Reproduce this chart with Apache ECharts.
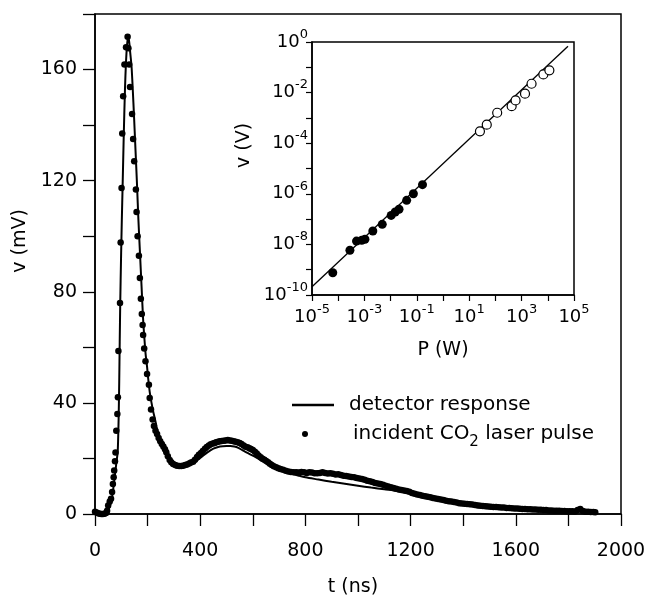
<!DOCTYPE html>
<html>
<head>
<meta charset="utf-8">
<script src="https://cdn.jsdelivr.net/npm/echarts@6/dist/echarts.min.js"></script>
<style>html,body{margin:0;padding:0;background:#fff}#c{width:650px;height:602px}</style>
</head>
<body>
<div id="c"></div>
<script>
// ---- main chart: detector response (solid line) ----
var respT = [0,20,40,50,57,63,68,72,77,82,86,88,90,92,94,96,99,102,105,109,114,118,122,126,130,134,139,144,148,154,160,165,171,177,183,188,193,198,202,208,215,221,227,234,240,250,260,270,280,290,300,315,330,345,360,380,400,425,450,475,500,515,530,545,560,580,600,625,650,675,700,725,750,775,800,850,900,950,1000,1050,1100,1150,1200,1250,1300,1350,1400,1450,1500,1550,1600,1650,1700,1750,1800,1850,1900];
var respV = [0.5,0.4,0.4,1.4,3,5,8,11,15,19,22,27,35,47,62,76,92,106,118,135,153,163,169,172,170,166,161,152,144,131,118,106,94,82,70,63,57,53,49,44,40,37,34.6,31.5,29,26,24,22,20.5,19.3,18.5,17.8,17.5,17.5,17.8,18.6,20.2,22,23.5,24.3,24.5,24.5,24.3,23.8,23,22,21,19.7,18.5,17.3,16.3,15.3,14.5,13.8,13.2,12.4,11.6,10.9,10.2,9.5,8.9,8.3,7.4,6.6,5.6,4.9,4.3,3.8,3.2,2.8,2.4,2.1,1.8,1.5,1.2,0.9,0.6];

// ---- main chart: incident CO2 laser pulse (dots) ----
var pulseT = [0,6,12,18,24,30,36,42,46,50,56,61,65,68,71,73,76,78,81,85,87,89,95,97.5,101,103.6,107,112,118,124,127,130,133,141,145,149,155.5,158,162,167,170.6,174.4,178,181,183,187,192,198,205,208,213,219,224,230,236,242,248,254,260,266,271,277,284,290,297,305,312,320,328,335,343,350,358,365,373,380,388,395,403,410,418,425,433,440,448,455,461,468,475,482,490,497,505,512,520,527,535,542,550,557,565,572,580,587,593,600,608,615,622,630,637,644,651,658,665,672,680,689,697,705,715,725,735,745,755,765,775,785,795,805,815,825,835,845,855,865,875,885,895,905,915,925,935,945,955,965,975,985,995,1005,1015,1025,1035,1045,1055,1065,1075,1085,1095,1105,1115,1125,1135,1145,1155,1165,1175,1185,1195,1205,1215,1225,1235,1245,1255,1265,1275,1285,1295,1305,1315,1325,1335,1345,1355,1365,1375,1385,1395,1405,1415,1425,1435,1445,1455,1465,1475,1485,1495,1505,1515,1525,1535,1545,1555,1565,1575,1585,1595,1605,1615,1625,1635,1645,1655,1665,1675,1685,1695,1705,1715,1725,1735,1745,1755,1765,1775,1785,1795,1805,1815,1825,1835,1845,1855,1865,1875,1885,1895,1902];
var pulseV = [0.8,0.5,0.3,0.1,0,0,0.1,0.4,1.2,3.1,4.5,5.5,7.9,10.8,13.2,15.7,19,22.1,30,36,42,58.7,76,97.7,117.4,137,150.4,161.8,168,171.8,167.7,161.8,153.7,144,135,127,116.8,108.7,100,93,85,77.5,72,68,64.4,59.6,55,50.4,46.5,41.8,37.6,34,31.7,30,28.8,27.4,26.2,25.2,24.3,23.3,22.2,20.8,19.4,18.6,18,17.6,17.4,17.3,17.3,17.4,17.6,17.8,18.2,18.5,18.8,19.5,20.5,21.3,22,22.7,23.5,24.1,24.7,25.1,25.4,25.6,25.8,26,26.2,26.3,26.4,26.5,26.6,26.5,26.4,26.2,26,25.8,25.6,25.2,24.7,24.2,24,23.7,23.4,23,22.4,21.8,21.1,20.4,19.9,19.5,19.1,18.6,18.1,17.6,17.2,16.8,16.5,16.2,15.9,15.6,15.3,15.1,15,15,14.9,15.1,15,14.8,15,14.9,14.7,14.7,14.8,15,14.8,14.6,14.7,14.5,14.2,14.3,14,13.8,13.7,13.5,13.3,13.2,13,12.8,12.6,12.3,12,11.8,11.5,11.2,11,10.8,10.5,10.2,9.9,9.6,9.4,9.1,8.8,8.6,8.5,8.3,8,7.6,7.3,7,6.8,6.6,6.4,6.2,6,5.8,5.6,5.4,5.2,5,4.8,4.6,4.5,4.3,4.1,3.9,3.8,3.7,3.6,3.5,3.4,3.2,3.1,3,2.9,2.8,2.7,2.6,2.5,2.5,2.4,2.3,2.3,2.2,2.2,2.1,2,2,1.9,1.8,1.8,1.7,1.7,1.6,1.6,1.5,1.5,1.4,1.4,1.3,1.3,1.2,1.2,1.2,1.1,1.1,1,1,1,0.9,1.4,1.8,1.1,0.8,0.8,0.7,0.7,0.6,0.5];

// ---- inset: v (V) vs P (W) ----
var filledP = [6.2e-5,2.8e-4,5.0e-4,7.9e-4,1.05e-3,2.1e-3,4.8e-3,1.05e-2,1.5e-2,2.1e-2,4.1e-2,7.4e-2,1.65e-1];
var filledV = [7.6e-10,5.9e-9,1.35e-8,1.45e-8,1.6e-8,3.4e-8,6.2e-8,1.4e-7,1.9e-7,2.45e-7,5.5e-7,1.0e-6,2.3e-6];
var openP = [25.7,46.8,117,417,589,1349,2399,6761,11480];
var openV = [2.95e-4,5.4e-4,1.6e-3,2.9e-3,4.9e-3,9.1e-3,2.24e-2,5.25e-2,7.6e-2];
var fitP = [1e-5,5.9e4];
var fitV = [2.1e-10,0.68];

// tick labels
var mainXLabels = [0,400,800,1200,1600,2000];
var mainYLabels = [0,40,80,120,160];
var insetXExp = [-5,-3,-1,1,3,5];
var insetYExp = [0,-2,-4,-6,-8,-10];

function zip(a,b){return a.map(function(v,i){return [v,b[i]];});}
var FONT = 'DejaVu Sans';

var chart = echarts.init(document.getElementById('c'), null, {renderer:'canvas'});
function expOf(v){return Math.round(Math.log(v)/Math.LN10);}
var supRich = {
  b:{fontSize:18,lineHeight:28,fontFamily:FONT,color:'#000'},
  s:{fontSize:13,lineHeight:8,verticalAlign:'top',fontFamily:FONT,color:'#000'}
};
var option = {
  animation:false,
  backgroundColor:'#fff',
  textStyle:{fontFamily:FONT,color:'#000'},
  grid:[
    {left:95,top:14,width:526,height:503,show:true,borderColor:'#000',borderWidth:1.5,backgroundColor:'transparent'},
    {left:312,top:42,width:262,height:253,show:true,borderColor:'#000',borderWidth:1.5,backgroundColor:'transparent'}
  ],
  xAxis:[
    {type:'value',gridIndex:0,min:0,max:2000,interval:200,
     axisLine:{lineStyle:{color:'#000',width:1.5}},
     axisTick:{length:12,lineStyle:{color:'#000',width:1.3}},
     splitLine:{show:false},
     axisLabel:{margin:28,fontSize:19,fontFamily:FONT,color:'#000',
       formatter:function(v){return mainXLabels.indexOf(v)>=0?String(v):'';}},
     name:'t (ns)',nameLocation:'middle',nameGap:64,
     nameTextStyle:{fontSize:19,fontFamily:FONT,color:'#000',padding:[0,10,0,0]}},
    {type:'log',logBase:10,gridIndex:1,min:1e-5,max:1e5,interval:1,splitNumber:10,
     axisLine:{lineStyle:{color:'#000',width:1.5}},
     axisTick:{length:6,lineStyle:{color:'#000',width:1.2}},
     splitLine:{show:false},minorTick:{show:false},
     axisLabel:{margin:8,rich:supRich,
       formatter:function(v){var e=expOf(v);return insetXExp.indexOf(e)>=0?'{b|10}{s|'+e+'}':'';}},
     name:'P (W)',nameLocation:'middle',nameGap:46,
     nameTextStyle:{fontSize:19,fontFamily:FONT,color:'#000'}}
  ],
  yAxis:[
    {type:'value',gridIndex:0,min:0,max:180,interval:20,
     axisLine:{lineStyle:{color:'#000',width:1.5}},
     axisTick:{length:12,lineStyle:{color:'#000',width:1.3}},
     splitLine:{show:false},
     axisLabel:{margin:18,fontSize:19,fontFamily:FONT,color:'#000',
       formatter:function(v){return mainYLabels.indexOf(v)>=0?String(v):'';}},
     name:'v (mV)',nameLocation:'middle',nameGap:50,
     nameTextStyle:{fontSize:19,fontFamily:FONT,color:'#000',padding:[0,0,0,46]}},
    {type:'log',logBase:10,gridIndex:1,min:1e-10,max:1,interval:1,splitNumber:10,
     axisLine:{lineStyle:{color:'#000',width:1.5}},
     axisTick:{length:6,lineStyle:{color:'#000',width:1.2}},
     splitLine:{show:false},minorTick:{show:false},
     axisLabel:{margin:4,rich:supRich,
       formatter:function(v){var e=expOf(v);return insetYExp.indexOf(e)>=0?'{b|10}{s|'+e+'}':'';}},
     name:'v (V)',nameLocation:'middle',nameGap:58,
     nameTextStyle:{fontSize:19,fontFamily:FONT,color:'#000',padding:[0,0,0,46]}}
  ],
  legend:[
    {data:[{name:'detector response',icon:'rect'}],left:287,top:388,orient:'vertical',selectedMode:false,
     itemWidth:42,itemHeight:2.5,
     textStyle:{fontSize:20,fontFamily:FONT,color:'#000',lineHeight:24,padding:[0,0,0,10]}},
    {data:['incident CO2 laser pulse'],left:297,top:413,orient:'vertical',selectedMode:false,
     itemWidth:42,itemHeight:6,
     formatter:function(){return 'incident CO{sub|2} laser pulse';},
     textStyle:{fontSize:20,fontFamily:FONT,color:'#000',lineHeight:32,padding:[0,0,0,22],
       rich:{sub:{fontSize:15,lineHeight:10,verticalAlign:'bottom',fontFamily:FONT,color:'#000'}}}}
  ],
  series:[
    {name:'detector response',type:'line',xAxisIndex:0,yAxisIndex:0,data:zip(respT,respV),
     symbol:'none',smooth:0.3,lineStyle:{color:'#000',width:2},itemStyle:{color:'#000'},z:3},
    {name:'incident CO2 laser pulse',type:'scatter',xAxisIndex:0,yAxisIndex:0,data:zip(pulseT,pulseV),
     symbol:'circle',symbolSize:6.5,itemStyle:{color:'#000',opacity:1},z:4},
    {name:'fit',type:'line',xAxisIndex:1,yAxisIndex:1,data:zip(fitP,fitV),
     symbol:'none',lineStyle:{color:'#000',width:1.3},z:3},
    {name:'low power',type:'scatter',xAxisIndex:1,yAxisIndex:1,data:zip(filledP,filledV),
     symbol:'circle',symbolSize:9,itemStyle:{color:'#000',opacity:1},z:4},
    {name:'high power',type:'scatter',xAxisIndex:1,yAxisIndex:1,data:zip(openP,openV),
     symbol:'circle',symbolSize:9,itemStyle:{color:'#fff',borderColor:'#000',borderWidth:1.2,opacity:1},z:4}
  ]
};
chart.setOption(option);
</script>
</body>
</html>
